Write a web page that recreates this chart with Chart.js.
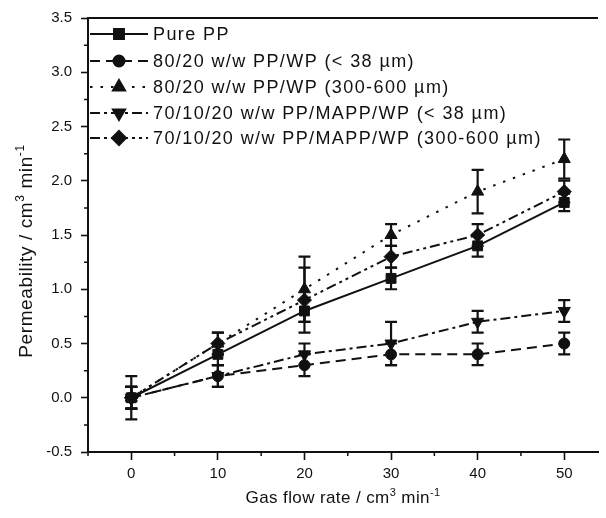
<!DOCTYPE html>
<html>
<head>
<meta charset="utf-8">
<script src="https://cdn.jsdelivr.net/npm/chart.js@4.4.1/dist/chart.umd.min.js"></script>
<style>
  html, body { margin: 0; padding: 0; background: #fff; }
  #wrap { width: 606px; height: 518px; }
</style>
</head>
<body>
<div id="wrap"><canvas id="c" width="606" height="518"></canvas></div>
<script>
// gas flow rate (cm3/min)
const flowRates = [0, 10, 20, 30, 40, 50];

const seriesNames = [
  "Pure PP",
  "80/20 w/w PP/WP (< 38 \u00b5m)",
  "80/20 w/w PP/WP (300-600 \u00b5m)",
  "70/10/20 w/w PP/MAPP/WP (< 38 \u00b5m)",
  "70/10/20 w/w PP/MAPP/WP (300-600 \u00b5m)"
];

// permeability values
const purePP       = [0, 0.4, 0.8, 1.1, 1.4, 1.8];
const ppWpFine     = [0, 0.2, 0.3, 0.4, 0.4, 0.5];
const ppWpCoarse   = [0, 0.5, 1.0, 1.5, 1.9, 2.2];
const mappWpFine   = [0, 0.2, 0.4, 0.5, 0.7, 0.8];
const mappWpCoarse = [0, 0.5, 0.9, 1.3, 1.5, 1.9];

// error bar half-widths
const purePPErr       = [0.1, 0.1, 0.1, 0.1, 0.1, 0.08];
const ppWpFineErr     = [0.1, 0.1, 0.1, 0.1, 0.1, 0.1];
const ppWpCoarseErr   = [0.2, 0.1, 0.3, 0.1, 0.2, 0.18];
const mappWpFineErr   = [0.1, 0.1, 0.1, 0.2, 0.1, 0.1];
const mappWpCoarseErr = [0.1, 0.1, 0.3, 0.1, 0.1, 0.1];

const xMajor = [0, 10, 20, 30, 40, 50];
const xMinor = [-5, 5, 15, 25, 35, 45];
const yMajor = [-0.5, 0, 0.5, 1, 1.5, 2, 2.5, 3, 3.5];
const yMinor = [-0.25, 0.25, 0.75, 1.25, 1.75, 2.25, 2.75, 3.25];

const FONT = "'Liberation Sans', Arial, sans-serif";
const INK = "#111";

function pts(ys) {
  return flowRates.map((x, i) => ({ x: x, y: ys[i] }));
}

function makeSet(i, ys, err, style, dash, rot, radius) {
  return {
    label: seriesNames[i],
    data: pts(ys),
    err: err,
    borderColor: INK,
    backgroundColor: INK,
    borderWidth: 2,
    borderDash: dash,
    pointStyle: style,
    rotation: rot,
    pointRadius: radius,
    pointHoverRadius: radius,
    pointBorderWidth: 1,
    pointBackgroundColor: INK,
    pointBorderColor: INK,
    tension: 0
  };
}

const datasets = [
  makeSet(0, purePP, purePPErr, "rect", [], 0, 7),
  makeSet(1, ppWpFine, ppWpFineErr, "circle", [10, 6], 0, 5.5),
  makeSet(2, ppWpCoarse, ppWpCoarseErr, "triangle", [2.5, 8], 0, 7),
  makeSet(3, mappWpFine, mappWpFineErr, "triangle", [10, 4, 3, 4], 180, 7),
  makeSet(4, mappWpCoarse, mappWpCoarseErr, "rectRot", [10, 4, 3, 4, 3, 4], 0, 7)
];

// vertical error bars with caps, drawn through the scales
const errorBars = {
  id: "errorBars",
  afterDatasetsDraw(chart) {
    const ctx = chart.ctx;
    const xs = chart.scales.x, ys = chart.scales.y;
    ctx.save();
    ctx.strokeStyle = INK;
    ctx.lineWidth = 2.2;
    chart.data.datasets.forEach(ds => {
      ds.data.forEach((p, i) => {
        const e = ds.err[i];
        const px = xs.getPixelForValue(p.x);
        const top = ys.getPixelForValue(p.y + e);
        const bot = ys.getPixelForValue(p.y - e);
        ctx.beginPath();
        ctx.moveTo(px, top); ctx.lineTo(px, bot);
        ctx.moveTo(px - 6, top); ctx.lineTo(px + 6, top);
        ctx.moveTo(px - 6, bot); ctx.lineTo(px + 6, bot);
        ctx.stroke();
      });
    });
    ctx.restore();
  }
};

// text with superscripts, drawn left to right from x
function drawRich(ctx, parts, x, y, size) {
  parts.forEach(([txt, sup]) => {
    ctx.font = (sup ? Math.round(size * 0.62) : size) + "px " + FONT;
    ctx.fillText(txt, x, sup ? y - size * 0.42 : y);
    x += ctx.measureText(txt).width;
  });
}
function richWidth(ctx, parts, size) {
  let w = 0;
  parts.forEach(([txt, sup]) => {
    ctx.font = (sup ? Math.round(size * 0.62) : size) + "px " + FONT;
    w += ctx.measureText(txt).width;
  });
  return w;
}

const xTitle = [["Gas flow rate / cm", false], ["3", true], [" min", false], ["-1", true]];
const yTitle = [["Permeability / cm", false], ["3", true], [" min", false], ["-1", true]];

// frame, minor ticks, axis titles and legend
const decorations = {
  id: "decorations",
  afterDraw(chart) {
    const ctx = chart.ctx;
    const a = chart.chartArea;
    const xs = chart.scales.x, ys = chart.scales.y;
    ctx.save();
    ctx.strokeStyle = INK;
    ctx.fillStyle = INK;
    ctx.lineWidth = 2;
    ctx.beginPath();
    ctx.moveTo(a.left - 1, a.top); ctx.lineTo(a.right, a.top);
    ctx.stroke();

    ctx.lineWidth = 1.5;
    ctx.beginPath();
    xMinor.forEach(v => {
      const px = xs.getPixelForValue(v);
      ctx.moveTo(px, a.bottom); ctx.lineTo(px, a.bottom + 4);
    });
    yMinor.forEach(v => {
      const py = ys.getPixelForValue(v);
      ctx.moveTo(a.left, py); ctx.lineTo(a.left - 4, py);
    });
    ctx.stroke();

    // axis titles
    ctx.textBaseline = "alphabetic";
    ctx.letterSpacing = "0.4px";
    const xsize = 17;
    const xw = richWidth(ctx, xTitle, xsize);
    drawRich(ctx, xTitle, (a.left + a.right) / 2 - xw / 2, 503, xsize);
    ctx.letterSpacing = "0.6px";
    const ysize = 19;
    const yw = richWidth(ctx, yTitle, ysize);
    ctx.save();
    ctx.translate(32, 251);
    ctx.rotate(-Math.PI / 2);
    drawRich(ctx, yTitle, -yw / 2, 0, ysize);
    ctx.restore();

    // legend with line samples
    const rowY = [34, 61, 87, 113, 138];
    chart.data.datasets.forEach((ds, i) => {
      const y = rowY[i];
      ctx.lineWidth = ds.borderWidth;
      ctx.setLineDash(ds.borderDash);
      ctx.beginPath();
      ctx.moveTo(a.left + 2, y); ctx.lineTo(a.left + 60, y);
      ctx.stroke();
      ctx.setLineDash([]);
      Chart.helpers.drawPoint(ctx, {
        pointStyle: ds.pointStyle,
        rotation: ds.rotation,
        radius: ds.pointRadius,
        borderWidth: 1
      }, a.left + 31, y);
      ctx.font = "18px " + FONT;
      ctx.letterSpacing = "1.4px";
      ctx.textBaseline = "middle";
      ctx.fillText(ds.label, a.left + 65, y + 1);
      ctx.letterSpacing = "0px";
    });
    ctx.restore();
  }
};

new Chart(document.getElementById("c"), {
  type: "line",
  data: { datasets: datasets },
  options: {
    responsive: false,
    animation: false,
    layout: { padding: { top: 17, right: 0, left: 0, bottom: 0 } },
    plugins: { legend: { display: false }, tooltip: { enabled: false } },
    scales: {
      x: {
        type: "linear",
        min: -5,
        max: 53.9,
        afterBuildTicks: s => { s.ticks = xMajor.map(v => ({ value: v })); },
        afterFit: s => { s.height = 66; },
        border: { color: INK, width: 2 },
        grid: { drawOnChartArea: false, tickLength: 8, tickColor: INK, tickWidth: 1.6 },
        ticks: {
          color: INK,
          padding: 5,
          maxRotation: 0,
          autoSkip: false,
          font: { family: FONT, size: 15 },
          callback: v => String(v)
        }
      },
      y: {
        type: "linear",
        min: -0.5,
        max: 3.5,
        afterBuildTicks: s => { s.ticks = yMajor.map(v => ({ value: v })); },
        afterFit: s => { s.width = 88; },
        border: { color: INK, width: 2 },
        grid: { drawOnChartArea: false, tickLength: 7, tickColor: INK, tickWidth: 1.6 },
        ticks: {
          color: INK,
          padding: 9,
          autoSkip: false,
          font: { family: FONT, size: 15 },
          callback: v => v.toFixed(1)
        }
      }
    }
  },
  plugins: [errorBars, decorations]
});
</script>
</body>
</html>
